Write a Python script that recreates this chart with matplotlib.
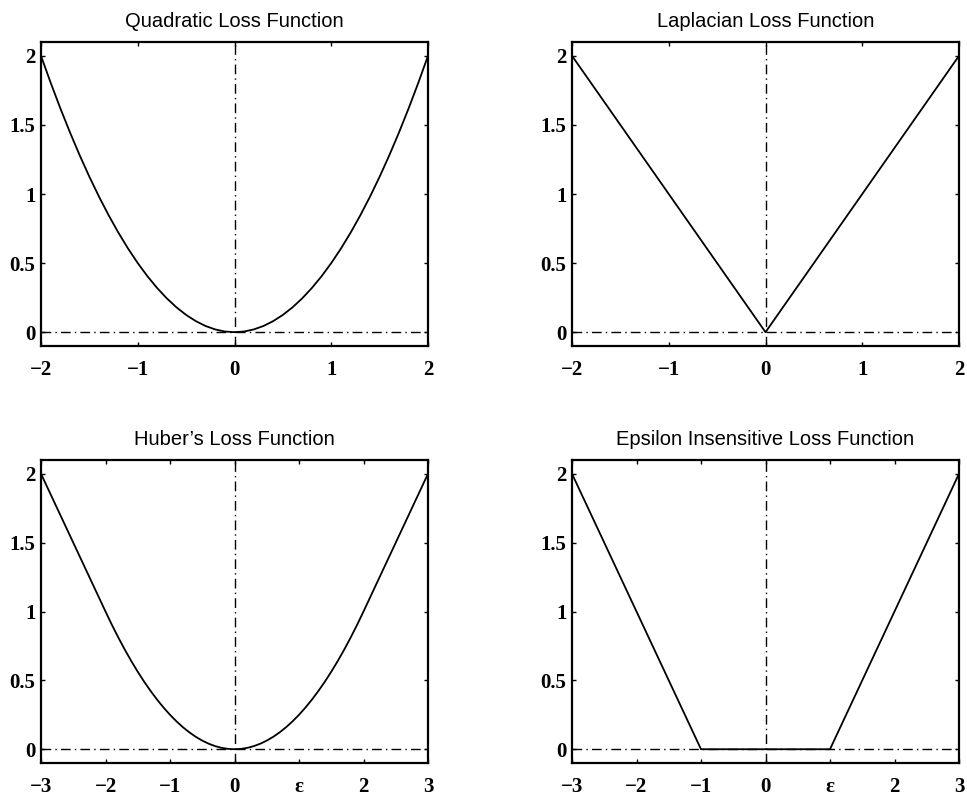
import matplotlib
matplotlib.use('Agg')
import matplotlib.pyplot as plt

# Quadratic loss, right half (curve is symmetric)
quad_half_x = [0.0, 0.1, 0.2, 0.3, 0.4, 0.5, 0.6, 0.7, 0.8, 0.9, 1.0,
               1.1, 1.2, 1.3, 1.4, 1.5, 1.6, 1.7, 1.8, 1.9, 2.0]
quad_half_y = [0.0, 0.005, 0.02, 0.045, 0.08, 0.125, 0.18, 0.245, 0.32, 0.405, 0.5,
               0.605, 0.72, 0.845, 0.98, 1.125, 1.28, 1.445, 1.62, 1.805, 2.0]

# Laplacian loss
lap_x = [-2, 0, 2]
lap_y = [2, 0, 2]

# Huber loss, right half
hub_half_x = [0.0, 0.1, 0.2, 0.3, 0.4, 0.5, 0.6, 0.7, 0.8, 0.9, 1.0,
              1.1, 1.2, 1.3, 1.4, 1.5, 1.6, 1.7, 1.8, 1.9, 2.0, 2.5, 3.0]
hub_half_y = [0.0, 0.0025, 0.01, 0.0225, 0.04, 0.0625, 0.09, 0.1225, 0.16, 0.2025, 0.25,
              0.3025, 0.36, 0.4225, 0.49, 0.5625, 0.64, 0.7225, 0.81, 0.9025, 1.0, 1.5, 2.0]

# Epsilon insensitive loss
eps_x = [-3, -1, 1, 3]
eps_y = [2, 0, 0, 2]

titles = ['Quadratic Loss Function', 'Laplacian Loss Function',
          'Huber\u2019s Loss Function', 'Epsilon Insensitive Loss Function']
y_ticks = [0, 0.5, 1, 1.5, 2]
y_labels = ['0', '0.5', '1', '1.5', '2']
x_ticks_a = [-2, -1, 0, 1, 2]
x_labels_a = ['\u22122', '\u22121', '0', '1', '2']
x_ticks_b = [-3, -2, -1, 0, 1, 2, 3]
x_labels_b = ['\u22123', '\u22122', '\u22121', '0', '\u03b5', '2', '3']


def mirror(hx, hy):
    return [-v for v in hx[:0:-1]] + hx, hy[:0:-1] + hy


quad_x, quad_y = mirror(quad_half_x, quad_half_y)
hub_x, hub_y = mirror(hub_half_x, hub_half_y)

fig = plt.figure(figsize=(9.67, 7.98), dpi=100)

# axes boxes measured in pixels from the reference
boxes = [(41, 42, 428, 346), (572, 42, 959, 346),
         (41, 460, 428, 763), (572, 460, 959, 763)]
W, H = 967.0, 798.0

series = [(quad_x, quad_y), (lap_x, lap_y), (hub_x, hub_y), (eps_x, eps_y)]
xlims = [(-2, 2), (-2, 2), (-3, 3), (-3, 3)]
xticks = [(x_ticks_a, x_labels_a), (x_ticks_a, x_labels_a),
          (x_ticks_b, x_labels_b), (x_ticks_b, x_labels_b)]

tick_font = {'family': 'Liberation Serif', 'weight': 'bold', 'size': 15}

for i in range(4):
    l, t, r, b = boxes[i]
    ax = fig.add_axes([l / W, 1 - b / H, (r - l) / W, (b - t) / H])
    xs, ys = series[i]
    ax.axhline(0, color='black', lw=1.0, dashes=(7, 3, 1, 3))
    ax.axvline(0, color='black', lw=1.0, dashes=(7, 3, 1, 3))
    ax.plot(xs, ys, color='black', lw=1.3)
    ax.set_xlim(xlims[i])
    ax.set_ylim(-0.1, 2.1)
    ax.set_xticks(xticks[i][0])
    ax.set_xticklabels(xticks[i][1], fontdict=tick_font)
    ax.set_yticks(y_ticks)
    ax.set_yticklabels(y_labels, fontdict=tick_font)
    ax.tick_params(direction='in', length=3, width=1, top=True, right=True)
    ax.tick_params(axis='x', pad=10)
    ax.tick_params(axis='y', pad=4)
    for s in ax.spines.values():
        s.set_linewidth(1.6)
    ax.set_title(titles[i], family='Liberation Sans', fontsize=14.5, pad=11)

plt.savefig('out.png', dpi=100)
